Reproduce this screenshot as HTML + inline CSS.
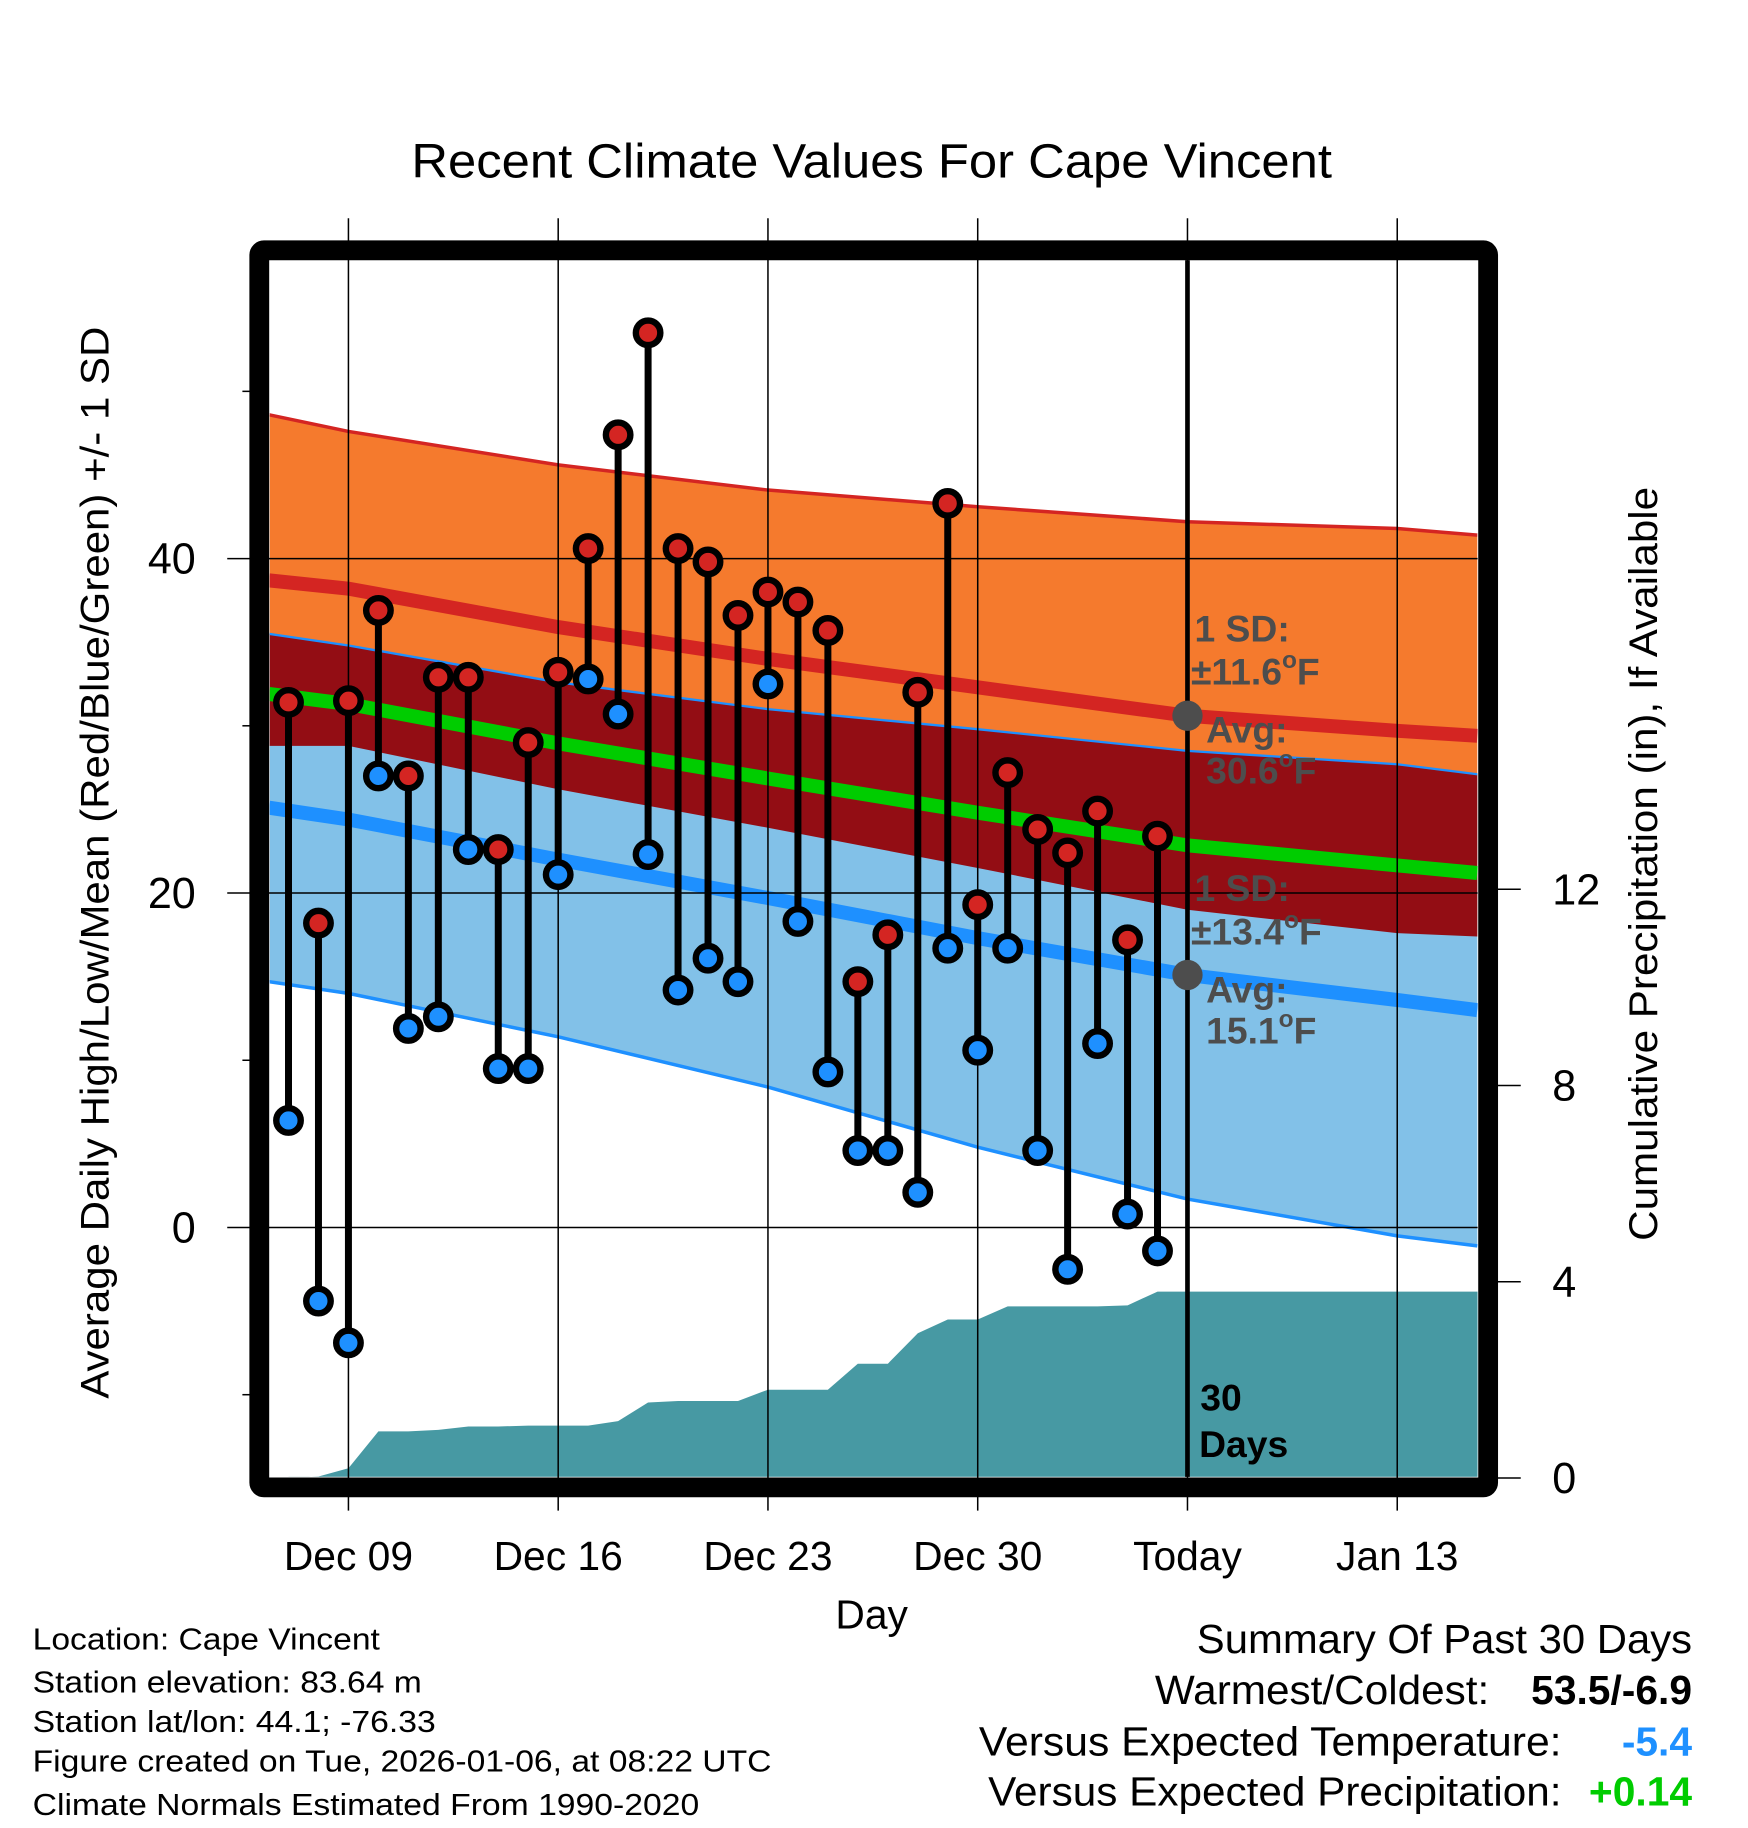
<!DOCTYPE html>
<html><head><meta charset="utf-8"><style>
html,body{margin:0;padding:0;background:#fff;}
svg{display:block;font-family:"Liberation Sans",Arial,sans-serif;}
</style></head><body>
<svg id="chart" width="1748" height="1828" viewBox="0 0 1500 1568" xmlns="http://www.w3.org/2000/svg">
<text x="353" y="152" font-size="41" textLength="790" lengthAdjust="spacingAndGlyphs">Recent Climate Values For Cape Vincent</text>
<g id="plot"></g>
</svg>
<script>
// ---- data ----
const obsDays = [-2,-1,0,1,2,3,4,5,6,7,8,9,10,11,12,13,14,15,16,17,18,19,20,21,22,23,24,25,26,27];
const highs = [31.4,18.2,31.5,36.9,27.0,32.9,32.9,22.6,29.0,33.2,40.6,47.4,53.5,40.6,39.8,36.6,38.0,37.4,35.7,14.7,17.5,32.0,43.3,19.3,27.2,23.8,22.4,24.9,17.2,23.4];
const lows = [6.4,-4.4,-6.9,27.0,11.9,12.6,22.6,9.5,9.5,21.1,32.8,30.7,22.3,14.2,16.1,14.7,32.5,18.3,9.3,4.6,4.6,2.1,16.7,10.6,16.7,4.6,-2.5,11.0,0.8,-1.4];
const precip = [0.0,0.03,0.2,0.95,0.95,0.98,1.05,1.05,1.07,1.07,1.07,1.16,1.54,1.57,1.57,1.57,1.8,1.8,1.8,2.33,2.33,2.95,3.23,3.23,3.5,3.5,3.5,3.5,3.52,3.8];
const normDays = [-2.65,0,7,14,21,28,35,37.67];
const normHigh = [38.7,38.2,35.9,34.0,32.3,30.6,29.7,29.4];
const sdHigh = [9.9,9.4,9.7,10.1,10.8,11.6,12.1,12.0];
const normLow = [25.1,24.4,22.0,19.7,17.3,15.1,13.6,13.0];
const sdLow = [10.4,10.4,10.6,11.3,12.5,13.4,14.1,14.1];
const xTickDays = [0,7,14,21,28,35];
const xTickLabels = ["Dec 09","Dec 16","Dec 23","Dec 30","Today","Jan 13"];
const yTicks = [0,20,40];
const yMinor = [-10,10,30,50];
const pTicks = [0,4,8,12];

// ---- axes ----
const X = d => 299 + d*180/7;
const Y = t => 1053 - t*14.35;
const P = p => 1268 - p*42.1;
const L = 231.5, R = 1268, T = 223, B = 1267;
const NS = "http://www.w3.org/2000/svg";
const g = document.getElementById('plot');
function el(tag, attrs, parent){const e=document.createElementNS(NS,tag);for(const k in attrs)e.setAttribute(k,attrs[k]);(parent||g).appendChild(e);return e;}
function pts(xs,ys){return xs.map((x,i)=>x.toFixed(1)+","+ys[i].toFixed(1)).join(" ");}

const defs = el('defs',{});
const cp = el('clipPath',{id:'clip'},defs);
el('rect',{x:L,y:T,width:R-L,height:B-T},cp);
const inner = el('g',{'clip-path':'url(#clip)'});

const nx = normDays.map(X);
const hiU = normHigh.map((v,i)=>Y(v+sdHigh[i])), hiL = normHigh.map((v,i)=>Y(v-sdHigh[i]));
const loU = normLow.map((v,i)=>Y(v+sdLow[i])), loL = normLow.map((v,i)=>Y(v-sdLow[i]));
const rx = nx.slice().reverse();
let e;
e = el('polygon',{points:pts(nx,hiU)+" "+pts(rx,hiL.slice().reverse()),fill:'#f57a2d'},inner);


e = el('polygon',{points:pts(nx,loU)+" "+pts(rx,loL.slice().reverse()),fill:'#82c1e8'},inner);


e = el('polygon',{points:pts(nx,loU)+" "+pts(rx,hiL.slice().reverse()),fill:'#930d14'},inner);


e = el('polyline',{points:pts(nx,hiU),fill:'none',stroke:'#d42522','stroke-width':3},inner);


e = el('polyline',{points:pts(nx,loU),fill:'none',stroke:'#1e90ff','stroke-width':2},inner);


e = el('polyline',{points:pts(nx,loL),fill:'none',stroke:'#1e90ff','stroke-width':3},inner);


e = el('polyline',{points:pts(nx,normHigh.map(Y)),fill:'none',stroke:'#d42522','stroke-width':12},inner);


e = el('polyline',{points:pts(nx,normLow.map(Y)),fill:'none',stroke:'#1e90ff','stroke-width':12},inner);


e = el('polyline',{points:pts(nx,normHigh.map((v,i)=>Y((v+normLow[i])/2))),fill:'none',stroke:'#00cc00','stroke-width':12},inner);



// precip area
const px = obsDays.map(X), py = precip.map(P);
e = el('polygon',{points:pts(px,py)+" "+R+","+py[py.length-1].toFixed(1)+" "+R+","+B+" "+px[0]+","+B,fill:'#4799a3'},inner);



// gridlines
xTickDays.forEach(d=>{
  const ln = el('line',{x1:X(d),x2:X(d),y1:187,y2:1296,stroke:'#000','stroke-width':1.3});
  
  
});
yTicks.forEach(t=>{
  const ln = el('line',{x1:195,x2:R,y1:Y(t),y2:Y(t),stroke:'#000','stroke-width':1.3});
  
  
  const tx = el('text',{x:168,y:Y(t)+13,'font-size':37,'text-anchor':'end'});
  tx.textContent = t;
  
  
});
yMinor.forEach(t=>{
  const ln = el('line',{x1:208,x2:220,y1:Y(t),y2:Y(t),stroke:'#000','stroke-width':1.3});
  
  
});
pTicks.forEach(p=>{
  const ln = el('line',{x1:1280,x2:1305,y1:P(p),y2:P(p),stroke:'#000','stroke-width':1.3});
  
  
  const tx = el('text',{x:1332,y:P(p)+13,'font-size':37,'text-anchor':'start'});
  tx.textContent = p;
  
  
});
xTickDays.forEach((d,i)=>{
  const tx = el('text',{x:X(d),y:1347,'font-size':35,'text-anchor':'middle'});
  tx.textContent = xTickLabels[i];
  
  
});

// today line
e = el('line',{x1:X(28),x2:X(28),y1:T,y2:B,stroke:'#000','stroke-width':4});



// observations
obsDays.forEach((d,i)=>{
  const x = X(d);
  const s = el('line',{x1:x,x2:x,y1:Y(highs[i]),y2:Y(lows[i]),stroke:'#000','stroke-width':6});
  
  
  const h = el('circle',{cx:x,cy:Y(highs[i]),r:10.5,fill:'#d42522',stroke:'#000','stroke-width':5.5});
  
  
  const l = el('circle',{cx:x,cy:Y(lows[i]),r:10.5,fill:'#1e90ff',stroke:'#000','stroke-width':5.5});
  
  
});

// today avg dots
e = el('circle',{cx:X(28),cy:Y(normHigh[5]),r:13,fill:'#4d4d4d'});


e = el('circle',{cx:X(28),cy:Y(normLow[5]),r:13,fill:'#4d4d4d'});



// frame
e = el('rect',{x:222.5,y:214.5,width:1054.5,height:1061.5,rx:4,fill:'none',stroke:'#000','stroke-width':17});


</script>
<svg style="position:absolute;left:0;top:0" width="1748" height="1828" viewBox="0 0 1500 1568" xmlns="http://www.w3.org/2000/svg">
<g font-weight="bold" fill="#4d4d4d" font-size="32">
<text x="1025" y="550">1 SD:</text>
<text x="1022" y="587">±11.6<tspan font-size="21" dy="-14">o</tspan><tspan dy="14">F</tspan></text>
<text x="1035" y="637">Avg:</text>
<text x="1035" y="672">30.6<tspan font-size="21" dy="-14">o</tspan><tspan dy="14">F</tspan></text>
</g>
<g font-weight="bold" fill="#4d4d4d" font-size="32">
<text x="1025" y="773">1 SD:</text>
<text x="1022" y="810">±13.4<tspan font-size="21" dy="-14">o</tspan><tspan dy="14">F</tspan></text>
<text x="1035" y="860">Avg:</text>
<text x="1035" y="895">15.1<tspan font-size="21" dy="-14">o</tspan><tspan dy="14">F</tspan></text>
</g>
<g font-weight="bold" fill="#000" font-size="32">
<text x="1030" y="1210">30</text>
<text x="1029" y="1250">Days</text>
</g>
<text transform="translate(93,740) rotate(-90)" font-size="34" text-anchor="middle" textLength="920" lengthAdjust="spacingAndGlyphs">Average Daily High/Low/Mean (Red/Blue/Green) +/- 1 SD</text>
<text transform="translate(1422,741) rotate(-90)" font-size="34" text-anchor="middle" textLength="647" lengthAdjust="spacingAndGlyphs">Cumulative Precipitation (in), If Available</text>
<text x="748" y="1397" font-size="35" text-anchor="middle">Day</text>
<g font-size="26">
<text x="28" y="1415" textLength="298" lengthAdjust="spacingAndGlyphs">Location: Cape Vincent</text>
<text x="28" y="1452" textLength="334" lengthAdjust="spacingAndGlyphs">Station elevation: 83.64 m</text>
<text x="28" y="1486" textLength="346" lengthAdjust="spacingAndGlyphs">Station lat/lon: 44.1; -76.33</text>
<text x="28" y="1520" textLength="634" lengthAdjust="spacingAndGlyphs">Figure created on Tue, 2026-01-06, at 08:22 UTC</text>
<text x="28" y="1557" textLength="572" lengthAdjust="spacingAndGlyphs">Climate Normals Estimated From 1990-2020</text>
</g>
<g font-size="35">
<text x="1027" y="1418" textLength="425" lengthAdjust="spacingAndGlyphs">Summary Of Past 30 Days</text>
<text x="991" y="1462" textLength="287" lengthAdjust="spacingAndGlyphs">Warmest/Coldest:</text>
<text x="1452" y="1462" text-anchor="end" font-weight="bold">53.5/-6.9</text>
<text x="840" y="1506" textLength="500" lengthAdjust="spacingAndGlyphs">Versus Expected Temperature:</text>
<text x="1452" y="1506" text-anchor="end" font-weight="bold" fill="#1e90ff">-5.4</text>
<text x="848" y="1549" textLength="492" lengthAdjust="spacingAndGlyphs">Versus Expected Precipitation:</text>
<text x="1452" y="1549" text-anchor="end" font-weight="bold" fill="#00cc00">+0.14</text>
</g>
</svg>
</body></html>
